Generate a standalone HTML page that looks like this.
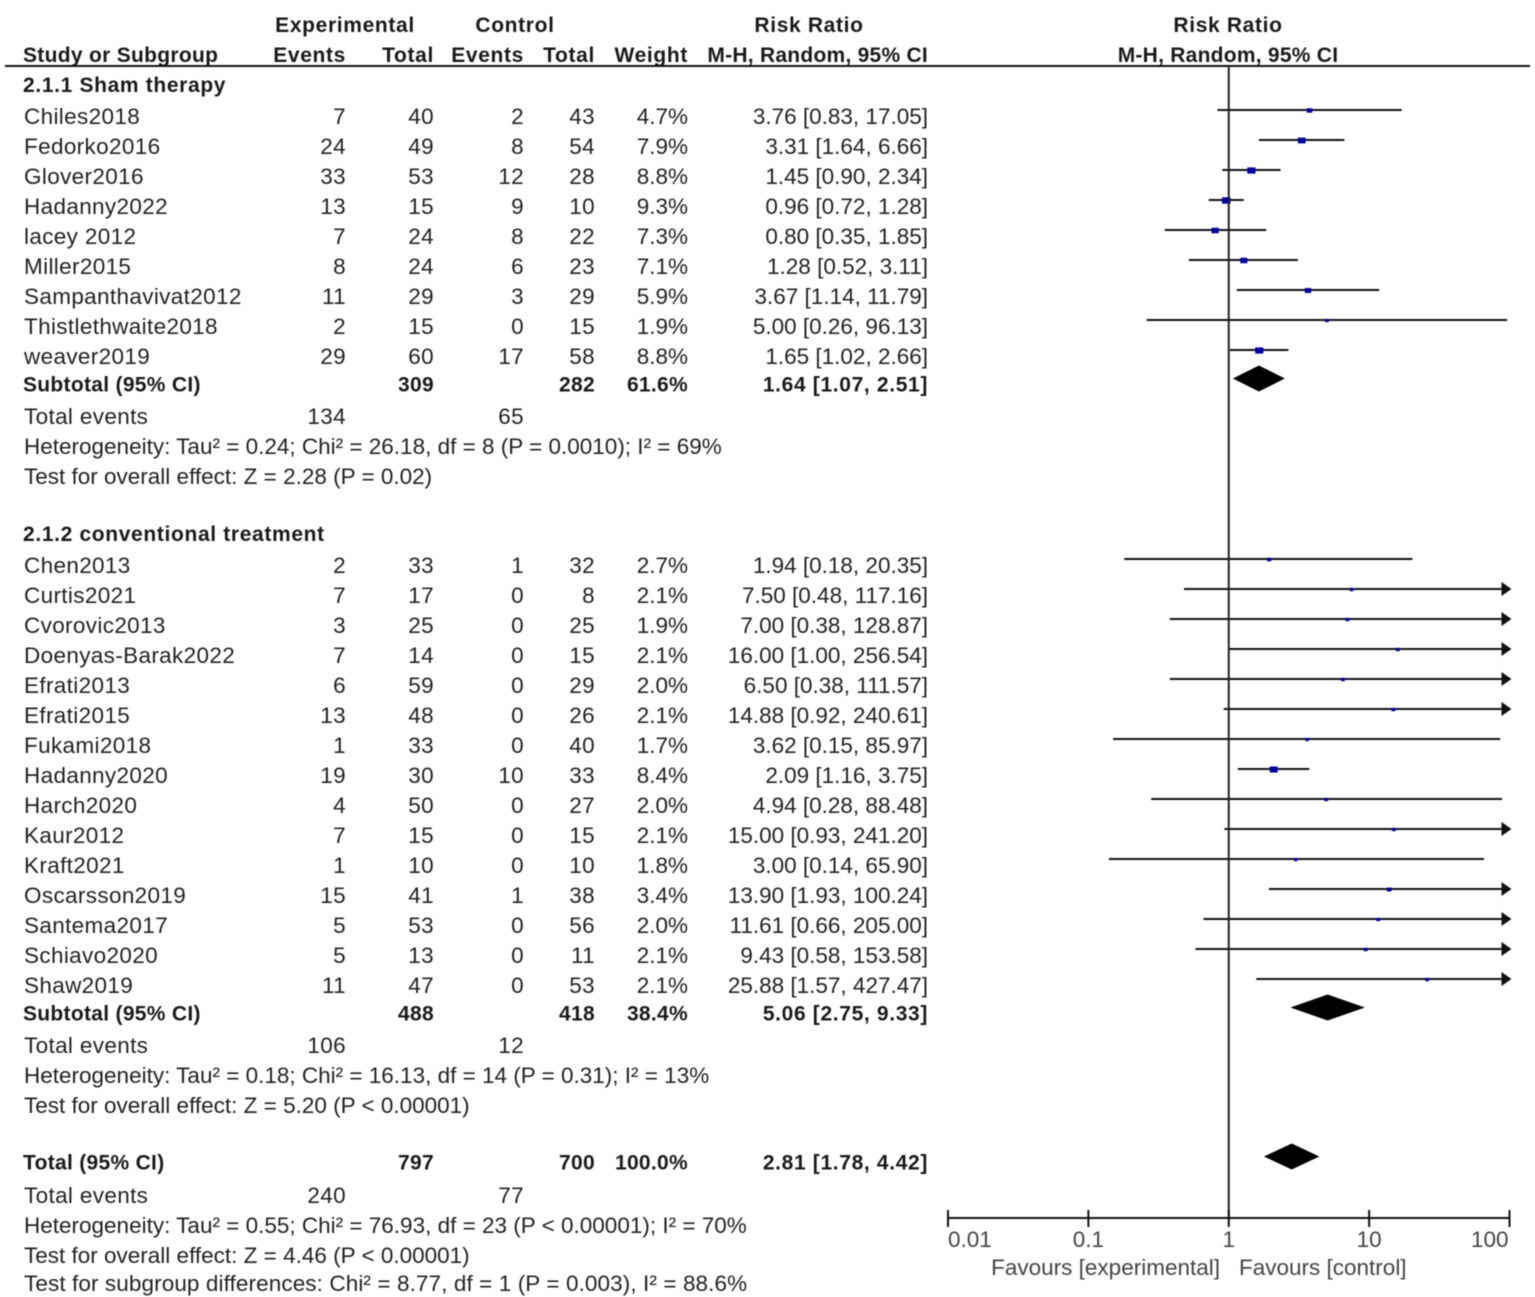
<!DOCTYPE html>
<html lang="en">
<head>
<meta charset="utf-8">
<title>Forest plot</title>
<style>
html,body{margin:0;padding:0;background:#fff;width:1535px;height:1297px;overflow:hidden}
svg{display:block;filter:blur(0.45px)}
text{font-family:"Liberation Sans",Arial,sans-serif;font-size:22.5px;letter-spacing:.35px;fill:#222}
.b{font-weight:bold;font-size:21px;letter-spacing:.3px;fill:#1a1a1a}
.w{letter-spacing:.65px}
.m{letter-spacing:.25px}
.r{text-anchor:end}
.c{text-anchor:middle}
.g{fill:#444;letter-spacing:0}
.z{letter-spacing:0}
.y{letter-spacing:.1px}
</style>
</head>
<body>
<svg id="plot" xmlns="http://www.w3.org/2000/svg" width="1535" height="1297" viewBox="0 0 1535 1297">
  <g id="headers">
    <text class="b w" x="345" y="32" text-anchor="middle">Experimental</text>
    <text class="b w" x="515" y="32" text-anchor="middle">Control</text>
    <text class="b w c" x="809" y="32">Risk Ratio</text>
    <text class="b w c" x="1228" y="32">Risk Ratio</text>
    <text class="b" x="23" y="62">Study or Subgroup</text>
    <text class="b w r" x="346" y="62">Events</text>
    <text class="b w r" x="434" y="62">Total</text>
    <text class="b w r" x="524" y="62">Events</text>
    <text class="b w r" x="595" y="62">Total</text>
    <text class="b w r" x="688" y="62">Weight</text>
    <text class="b m r" x="928" y="62">M-H, Random, 95% CI</text>
    <text class="b m c" x="1228" y="62">M-H, Random, 95% CI</text>
    <line x1="5" y1="66" x2="1530" y2="66" stroke="#111" stroke-width="2"/>
  </g>
  <g id="notes">
    <text class="b w" x="23" y="92">2.1.1 Sham therapy</text>
    <text x="24" y="424">Total events</text>
    <text class="z" x="24" y="454">Heterogeneity: Tau² = 0.24; Chi² = 26.18, df = 8 (P = 0.0010); I² = 69%</text>
    <text class="z" x="24" y="484">Test for overall effect: Z = 2.28 (P = 0.02)</text>
    <text class="b w" x="23" y="541">2.1.2 conventional treatment</text>
    <text x="24" y="1053">Total events</text>
    <text class="z" x="24" y="1083">Heterogeneity: Tau² = 0.18; Chi² = 16.13, df = 14 (P = 0.31); I² = 13%</text>
    <text class="z" x="24" y="1113">Test for overall effect: Z = 5.20 (P &lt; 0.00001)</text>
    <text x="24" y="1203">Total events</text>
    <text class="z" x="24" y="1233">Heterogeneity: Tau² = 0.55; Chi² = 76.93, df = 23 (P &lt; 0.00001); I² = 70%</text>
    <text class="z" x="24" y="1263">Test for overall effect: Z = 4.46 (P &lt; 0.00001)</text>
    <text class="y" x="24" y="1291">Test for subgroup differences: Chi² = 8.77, df = 1 (P = 0.003), I² = 88.6%</text>
    <text class="g r" x="1220" y="1275">Favours [experimental]</text>
    <text class="g" x="1239" y="1275">Favours [control]</text>
  </g>
  <g id="table"></g>
  <g id="marks"></g>
</svg>
<script>
const studies = ["Chiles2018","Fedorko2016","Glover2016","Hadanny2022","lacey 2012","Miller2015","Sampanthavivat2012","Thistlethwaite2018","weaver2019","Chen2013","Curtis2021","Cvorovic2013","Doenyas-Barak2022","Efrati2013","Efrati2015","Fukami2018","Hadanny2020","Harch2020","Kaur2012","Kraft2021","Oscarsson2019","Santema2017","Schiavo2020","Shaw2019"];
const expEvents = [7,24,33,13,7,8,11,2,29,2,7,3,7,6,13,1,19,4,7,1,15,5,5,11];
const expTotals = [40,49,53,15,24,24,29,15,60,33,17,25,14,59,48,33,30,50,15,10,41,53,13,47];
const ctrlEvents = [2,8,12,9,8,6,3,0,17,1,0,0,0,0,0,0,10,0,0,0,1,0,0,0];
const ctrlTotals = [43,54,28,10,22,23,29,15,58,32,8,25,15,29,26,40,33,27,15,10,38,56,11,53];
const weights = [4.7,7.9,8.8,9.3,7.3,7.1,5.9,1.9,8.8,2.7,2.1,1.9,2.1,2.0,2.1,1.7,8.4,2.0,2.1,1.8,3.4,2.0,2.1,2.1];
const ratios = [3.76,3.31,1.45,0.96,0.80,1.28,3.67,5.00,1.65,1.94,7.50,7.00,16.00,6.50,14.88,3.62,2.09,4.94,15.00,3.00,13.90,11.61,9.43,25.88];
const lowers = [0.83,1.64,0.90,0.72,0.35,0.52,1.14,0.26,1.02,0.18,0.48,0.38,1.00,0.38,0.92,0.15,1.16,0.28,0.93,0.14,1.93,0.66,0.58,1.57];
const uppers = [17.05,6.66,2.34,1.28,1.85,3.11,11.79,96.13,2.66,20.35,117.16,128.87,256.54,111.57,240.61,85.97,3.75,88.48,241.20,65.90,100.24,205.00,153.58,427.47];

const poolLabels = ["Subtotal (95% CI)","Subtotal (95% CI)","Total (95% CI)"];
const poolExpTotals = [309,488,797];
const poolCtrlTotals = [282,418,700];
const poolWeights = ["61.6%","38.4%","100.0%"];
const poolRatios = [1.64,5.06,2.81];
const poolLowers = [1.07,2.75,1.78];
const poolUppers = [2.51,9.33,4.42];
const poolExpEvents = [134,106,240];
const poolCtrlEvents = [65,12,77];

const tickValues = [0.01,0.1,1,10,100];
const tickLabels = ["0.01","0.1","1","10","100"];

const SVGNS = "http://www.w3.org/2000/svg";
const table = document.getElementById("table");
const marks = document.getElementById("marks");
const AXIS_MIN = 0.01, AXIS_MAX = 100, AXIS_LEFT = 948, AXIS_RIGHT = 1509.5, AXIS_Y = 1218;

function xScale(v) {
  const t = (Math.log10(v) - Math.log10(AXIS_MIN)) / (Math.log10(AXIS_MAX) - Math.log10(AXIS_MIN));
  return AXIS_LEFT + t * (AXIS_RIGHT - AXIS_LEFT);
}
function rowCenter(i) {
  return i < 9 ? 116 + 30 * i : 565 + 30 * (i - 9);
}
function poolCenter(j) {
  return [384, 1013, 1162][j];
}
function poolEventCenter(j) {
  return [416, 1045, 1195][j];
}
function shape(tag, attrs, parent) {
  const el = document.createElementNS(SVGNS, tag);
  for (const k in attrs) el.setAttribute(k, attrs[k]);
  parent.appendChild(el);
  return el;
}
function label(content, x, y, cls, parent) {
  const el = shape("text", {x: x, y: y}, parent);
  if (cls) el.setAttribute("class", cls);
  el.textContent = content;
  return el;
}

studies.forEach(function (name, i) {
  const base = rowCenter(i) + 8;
  const row = shape("g", {}, table);
  
  
  const nameCell = label(name, 24, base, "", row);
  
  
  const cell1 = label(String(expEvents[i]), 346, base, "r", row);
  
  
  const cell2 = label(String(expTotals[i]), 434, base, "r", row);
  
  
  const cell3 = label(String(ctrlEvents[i]), 524, base, "r", row);
  
  
  const cell4 = label(String(ctrlTotals[i]), 595, base, "r", row);
  
  
  const cell5 = label(weights[i].toFixed(1) + "%", 688, base, "r z", row);
  
  
  const ciText = ratios[i].toFixed(2) + " [" + lowers[i].toFixed(2) + ", " + uppers[i].toFixed(2) + "]";
  const cell6 = label(ciText, 928, base, "r z", row);
  
  

  const y = rowCenter(i) - 6;
  const x1 = xScale(Math.max(lowers[i], AXIS_MIN));
  const clipped = uppers[i] > AXIS_MAX;
  const x2 = clipped ? AXIS_RIGHT - 6 : xScale(uppers[i]);
  const ci = shape("line", {x1: x1, y1: y, x2: x2, y2: y, stroke: "#111", "stroke-width": 2}, marks);
  
  
  if (clipped) {
    const tip = AXIS_RIGHT + 2;
    const head = shape("polygon", {points: (tip - 10) + "," + (y - 7) + " " + tip + "," + y + " " + (tip - 10) + "," + (y + 7), fill: "#111"}, marks);
    
    
  }
  const w = 2.5 + weights[i] * 0.65;
  const h = 2.5 + weights[i] * 0.42;
  const square = shape("rect", {x: xScale(ratios[i]) - w / 2, y: y + 0.5 - h / 2, width: w, height: h, fill: "#0000a8"}, marks);
  
  
});

poolLabels.forEach(function (text, j) {
  const base = poolCenter(j) + 7.5;
  const row = shape("g", {}, table);
  
  
  const t0 = label(text, 23, base, "b", row);
  
  
  const t1 = label(String(poolExpTotals[j]), 434, base, "b r", row);
  
  
  const t2 = label(String(poolCtrlTotals[j]), 595, base, "b r", row);
  
  
  const t3 = label(poolWeights[j], 688, base, "b r", row);
  
  
  const ciText = poolRatios[j].toFixed(2) + " [" + poolLowers[j].toFixed(2) + ", " + poolUppers[j].toFixed(2) + "]";
  const t4 = label(ciText, 928, base, "b w r", row);
  
  
  const evBase = poolEventCenter(j) + 8;
  const t5 = label(String(poolExpEvents[j]), 346, evBase, "r", row);
  
  
  const t6 = label(String(poolCtrlEvents[j]), 524, evBase, "r", row);
  
  

  const cy = poolCenter(j) - 5.5;
  const pts = xScale(poolLowers[j]) + "," + cy + " " + xScale(poolRatios[j]) + "," + (cy - 13) + " " + xScale(poolUppers[j]) + "," + cy + " " + xScale(poolRatios[j]) + "," + (cy + 13);
  const diamond = shape("polygon", {points: pts, fill: "#000"}, marks);
  
  
});

const refLine = shape("line", {x1: xScale(1), y1: 66, x2: xScale(1), y2: AXIS_Y, stroke: "#222", "stroke-width": 2}, marks);



const axisLine = shape("line", {x1: xScale(AXIS_MIN), y1: AXIS_Y, x2: xScale(AXIS_MAX), y2: AXIS_Y, stroke: "#111", "stroke-width": 2}, marks);



tickValues.forEach(function (v, k) {
  const x = xScale(v);
  const tick = shape("line", {x1: x, y1: AXIS_Y - 8, x2: x, y2: AXIS_Y + 9, stroke: "#111", "stroke-width": 2}, marks);
  
  
  const isFirst = k === 0, isLast = k === tickValues.length - 1;
  const lx = isFirst ? x : isLast ? x - 1 : x;
  const cls = "g" + (isLast ? " r" : isFirst ? "" : " c");
  const tl = label(tickLabels[k], lx, 1247, cls, marks);
  
  
});
</script>
</body>
</html>
